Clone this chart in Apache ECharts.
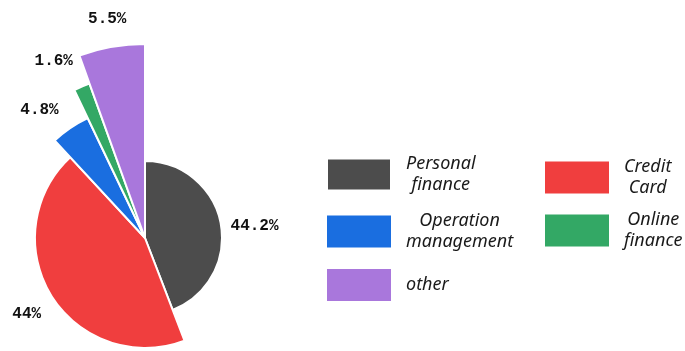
<!DOCTYPE html>
<html>
<head>
<meta charset="utf-8">
<script src="https://cdn.jsdelivr.net/npm/echarts@6/dist/echarts.min.js"></script>
<style>
  html, body { margin: 0; padding: 0; background: #fff; }
  #chart { width: 685px; height: 351px; }
</style>
</head>
<body>
<div id="chart"></div>
<script>
// Business share by line (percent)
const categories = ['Personal finance', 'Credit Card', 'Operation management', 'Online finance', 'other'];
const shares = [44.2, 44, 4.8, 1.6, 5.5];

// Styling per slice
const sliceColors = ['#4c4c4c', '#f03e3e', '#1a6ee0', '#33a865', '#a977dc'];
const sliceRadius = [77, 110, 133, 164, 194];
const labelNudge = [[-5, 4], [3, 13], [-1, -9.5], [0, -16], [21.5, -18]];

const legendColumns = [
  ['Personal finance', 'Operation management', 'other'],
  ['Credit Card', 'Online finance']
];

const pieCenter = [145, 238];

// Each slice gets its own ring radius: one pie series per slice, the other
// slices in that series are left invisible so the angles stay shared.
const series = categories.map(function (name, k) {
  return {
    type: 'pie',
    center: pieCenter,
    radius: [0, sliceRadius[k]],
    startAngle: 90,
    clockwise: true,
    avoidLabelOverlap: false,
    silent: true,
    emphasis: { disabled: true },
    labelLine: { show: false, length: 10, length2: 0 },
    labelLayout: function (p) {
      const n = labelNudge[p.seriesIndex];
      return {
        x: p.labelRect.x + p.labelRect.width / 2 + n[0],
        y: p.labelRect.y + p.labelRect.height / 2 + n[1],
        align: 'center',
        verticalAlign: 'middle'
      };
    },
    data: categories.map(function (c, i) {
      const own = i === k;
      return {
        name: c,
        value: shares[i],
        itemStyle: own
          ? { color: sliceColors[i], borderColor: '#fff', borderWidth: 2 }
          : { color: 'rgba(0,0,0,0)', borderWidth: 0 },
        label: {
          show: own,
          position: 'outside',
          formatter: '{c}%',
          fontFamily: 'Liberation Mono',
          fontWeight: 'bold',
          fontSize: 16,
          color: '#111'
        }
      };
    })
  };
});

function legendFor(names, left, top, gap) {
  return {
    orient: 'vertical',
    left: left,
    top: top,
    padding: 0,
    itemGap: gap,
    itemWidth: 64,
    itemHeight: 32,
    icon: 'rect',
    selectedMode: false,
    data: names.map(function (n) {
      return { name: n, itemStyle: { color: sliceColors[categories.indexOf(n)] } };
    }),
    formatter: function (n) {
      return n.split(' ').map(function (w) { return '{t|' + w + '}'; }).join('\n');
    },
    textStyle: {
      padding: [0, 0, 0, 10],
      rich: {
        t: {
          align: 'center',
          fontFamily: 'Noto Sans',
          fontStyle: 'italic',
          fontSize: 18,
          lineHeight: 21,
          color: '#1a1a1a'
        }
      }
    }
  };
}

const chart = echarts.init(document.getElementById('chart'), null, { renderer: 'canvas' });
chart.setOption({
  animation: false,
  backgroundColor: '#fff',
  legend: [
    legendFor(legendColumns[0], 326, 155, 18),
    legendFor(legendColumns[1], 545, 158, 14)
  ],
  series: series
});
</script>
</body>
</html>
